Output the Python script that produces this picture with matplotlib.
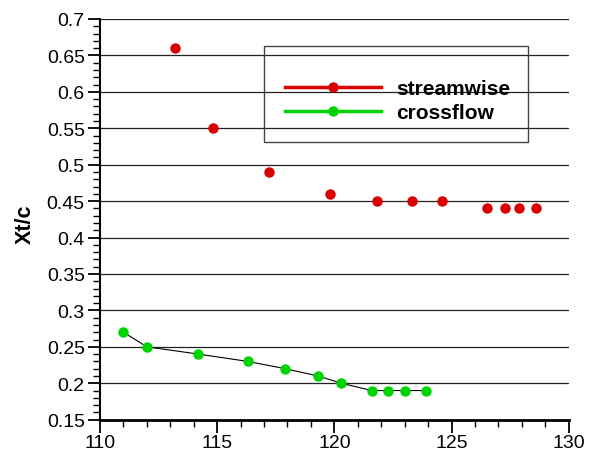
import matplotlib.pyplot as plt
from matplotlib.lines import Line2D
from matplotlib.patches import Rectangle
from matplotlib.ticker import MultipleLocator

plt.rcParams['font.family'] = ['Liberation Sans', 'DejaVu Sans']

# streamwise transition location (markers only)
stream_x = [113.2, 114.8, 117.2, 119.8, 121.8, 123.3, 124.6, 126.5, 127.3, 127.9, 128.6]
stream_y = [0.66, 0.55, 0.49, 0.46, 0.45, 0.45, 0.45, 0.44, 0.44, 0.44, 0.44]

# crossflow transition location
cross_x = [111.0, 112.0, 114.2, 116.3, 117.9, 119.3, 120.3, 121.6, 122.3, 123.0, 123.9]
cross_y = [0.27, 0.25, 0.24, 0.23, 0.22, 0.21, 0.20, 0.19, 0.19, 0.19, 0.19]

red = '#d80000'
green = '#00d400'

fig = plt.figure(figsize=(5.94, 4.52), dpi=100)
ax = fig.add_axes([0.1684, 0.0693, 0.789, 0.8865])

for y in [0.2, 0.25, 0.3, 0.35, 0.4, 0.45, 0.5, 0.55, 0.6, 0.65, 0.7]:
    ax.axhline(y, color='#222222', lw=0.9, zorder=1)

ax.plot(stream_x, stream_y, 'o', color=red, ms=6.5, mec=red, zorder=3, clip_on=False)
ax.plot(cross_x, cross_y, '-', color='black', lw=0.8, zorder=2)
ax.plot(cross_x, cross_y, 'o', color=green, ms=6.5, mec=green, zorder=3)

ax.set_xlim(110, 130)
ax.set_ylim(0.15, 0.7)
ax.xaxis.set_major_locator(MultipleLocator(5))
ax.xaxis.set_minor_locator(MultipleLocator(1))
ax.yaxis.set_minor_locator(MultipleLocator(0.01))
ax.set_yticks([0.15, 0.2, 0.25, 0.3, 0.35, 0.4, 0.45, 0.5, 0.55, 0.6, 0.65, 0.7])
ax.set_yticklabels(['0.15', '0.2', '0.25', '0.3', '0.35', '0.4', '0.45', '0.5', '0.55', '0.6', '0.65', '0.7'])

ax.spines['top'].set_visible(False)
ax.spines['right'].set_visible(False)
ax.spines['left'].set_linewidth(1.5)
ax.spines['bottom'].set_linewidth(2)
ax.tick_params(which='major', direction='out', length=9, width=1.3, labelsize=14, pad=2)
ax.tick_params(axis='x', which='major', pad=1)
ax.tick_params(which='minor', direction='out', length=5, width=1)

ax.set_ylabel('Xt/c', fontsize=15.5, fontweight='bold')
ax.yaxis.set_label_coords(-0.137, 0.49)

# legend frame
ax.add_patch(Rectangle((0.35, 0.693), 0.563, 0.2396, transform=ax.transAxes,
                       fill=False, edgecolor='#444444', lw=1, zorder=4))

handles = [
    Line2D([0], [0], color=red, lw=2.5, marker='o', ms=6.5),
    Line2D([0], [0], color=green, lw=2.5, marker='o', ms=6.5),
]
leg = ax.legend(handles, ['streamwise', 'crossflow'], loc='upper left',
                bbox_to_anchor=(0.395, 0.8505), prop={'weight': 'bold', 'size': 15},
                frameon=False, handlelength=4.6, handletextpad=0.75,
                labelspacing=0.26, borderpad=0, borderaxespad=0)

plt.savefig('out.png', dpi=100)
